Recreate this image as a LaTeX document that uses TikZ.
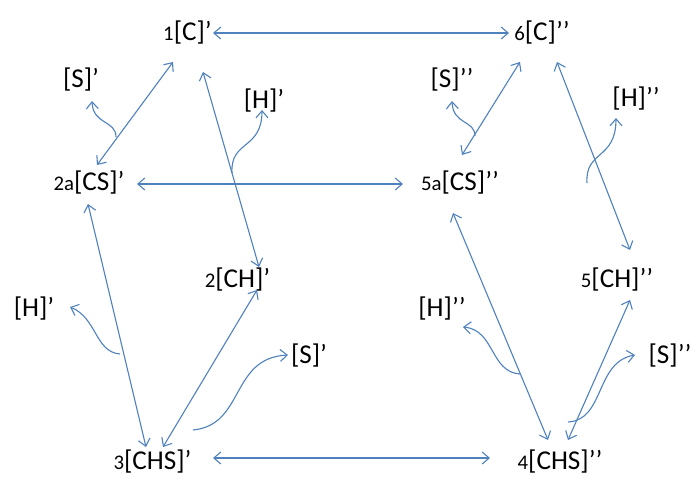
\documentclass[tikz,border=0pt]{standalone}
\usepackage{fontspec}
\setmainfont{Carlito}
\usetikzlibrary{arrows.meta}
\definecolor{arrblue}{RGB}{79,129,189}
\newcommand{\bigf}{\fontsize{13.6}{16}\selectfont}
\newcommand{\smf}{\fontsize{10.4}{12}\selectfont}
\tikzset{
  lbl/.style={inner sep=0pt, anchor=base, font=\bigf},
  rxn/.style={draw=arrblue, line width=0.55pt, {Straight Barb[length=3.5pt,width=6pt]}-{Straight Barb[length=3.5pt,width=6pt]}},
  side/.style={draw=arrblue, line width=0.55pt, -{Straight Barb[length=3.5pt,width=6pt]}}
}
\begin{document}
\begin{tikzpicture}[x=0.5pt,y=-0.5pt]
\useasboundingbox (0,0) rectangle (693,477);
% main species
\node[lbl] (n1) at (187.5,40) {{\smf 1}[C]’};
\node[lbl] (n6) at (542,40) {{\smf 6}[C]’’};
\node[lbl] (n2a) at (89,190) {{\smf 2a}[CS]’};
\node[lbl] (n5a) at (460,190) {{\smf 5a}[CS]’’};
\node[lbl] (n2) at (237.5,287) {{\smf 2}[CH]’};
\node[lbl] (n5) at (617,287) {{\smf 5}[CH]’’};
\node[lbl] (n3) at (152.5,469) {{\smf 3}[CHS]’};
\node[lbl] (n4) at (560,469) {{\smf 4}[CHS]’’};
% side products
\node[lbl] (s1) at (81,87) {[S]’};
\node[lbl] (h1) at (264,108) {[H]’};
\node[lbl] (s5) at (452,87) {[S]’’};
\node[lbl] (h5) at (636,106) {[H]’’};
\node[lbl] (h2) at (34,316) {[H]’};
\node[lbl] (s2) at (309,363) {[S]’};
\node[lbl] (h4) at (442,316) {[H]’’};
\node[lbl] (s4) at (670,363) {[S]’’};
% arrow end points
\coordinate (a1e) at (213,33);   \coordinate (a6w) at (509,33);
\coordinate (a2ae) at (137,184); \coordinate (a5aw) at (403,184);
\coordinate (a3e) at (213,458);  \coordinate (a4w) at (490,458);
\coordinate (a2an) at (97,165);  \coordinate (a1sw) at (173,62);
\coordinate (a1s) at (203,72);   \coordinate (a2n) at (259,267);
\coordinate (a2as) at (88,204);  \coordinate (a3nw) at (146,447);
\coordinate (a3ne) at (163,447); \coordinate (a2s) at (257,290);
\coordinate (a5an) at (462,155); \coordinate (a6sw) at (520,62);
\coordinate (a6s) at (557,62);   \coordinate (a5n) at (630,250);
\coordinate (a5as) at (453,213); \coordinate (a4nw) at (548,440);
\coordinate (a4ne) at (568,440); \coordinate (a5s) at (630,300);
% side arrow starts and ends
\coordinate (cs1) at (116,137);  \coordinate (ts1) at (92,101);
\coordinate (ch1) at (232,173);  \coordinate (th1) at (262,110);
\coordinate (ch2) at (120,354);  \coordinate (th2) at (70,307);
\coordinate (cs2) at (193,430);  \coordinate (ts2) at (288,355);
\coordinate (cs5) at (475,136);  \coordinate (ts5) at (452,101);
\coordinate (ch5) at (587,183);  \coordinate (th5) at (616,118);
\coordinate (ch4) at (520,374);  \coordinate (th4) at (463,327);
\coordinate (cs4) at (568,422);  \coordinate (ts4) at (635,355);
% main equilibria
\draw[rxn] (a1e) -- (a6w);
\draw[rxn] (a2ae) -- (a5aw);
\draw[rxn] (a3e) -- (a4w);
\draw[rxn] (a2an) -- (a1sw);
\draw[rxn] (a1s) -- (a2n);
\draw[rxn] (a2as) -- (a3nw);
\draw[rxn] (a3ne) -- (a2s);
\draw[rxn] (a5an) -- (a6sw);
\draw[rxn] (a6s) -- (a5n);
\draw[rxn] (a5as) -- (a4nw);
\draw[rxn] (a4ne) -- (a5s);
% side releases
\draw[side] (cs1) .. controls (116,120) and (93,125) .. (ts1);
\draw[side] (ch1) .. controls (230,140) and (262,150) .. (th1);
\draw[side] (ch2) .. controls (95,352) and (97,318) .. (th2);
\draw[side] (cs2) .. controls (245,425) and (230,358) .. (ts2);
\draw[side] (cs5) .. controls (475,120) and (453,125) .. (ts5);
\draw[side] (ch5) .. controls (585,150) and (616,160) .. (th5);
\draw[side] (ch4) .. controls (490,372) and (495,330) .. (th4);
\draw[side] (cs4) .. controls (605,420) and (595,362) .. (ts4);
\end{tikzpicture}
\end{document}
